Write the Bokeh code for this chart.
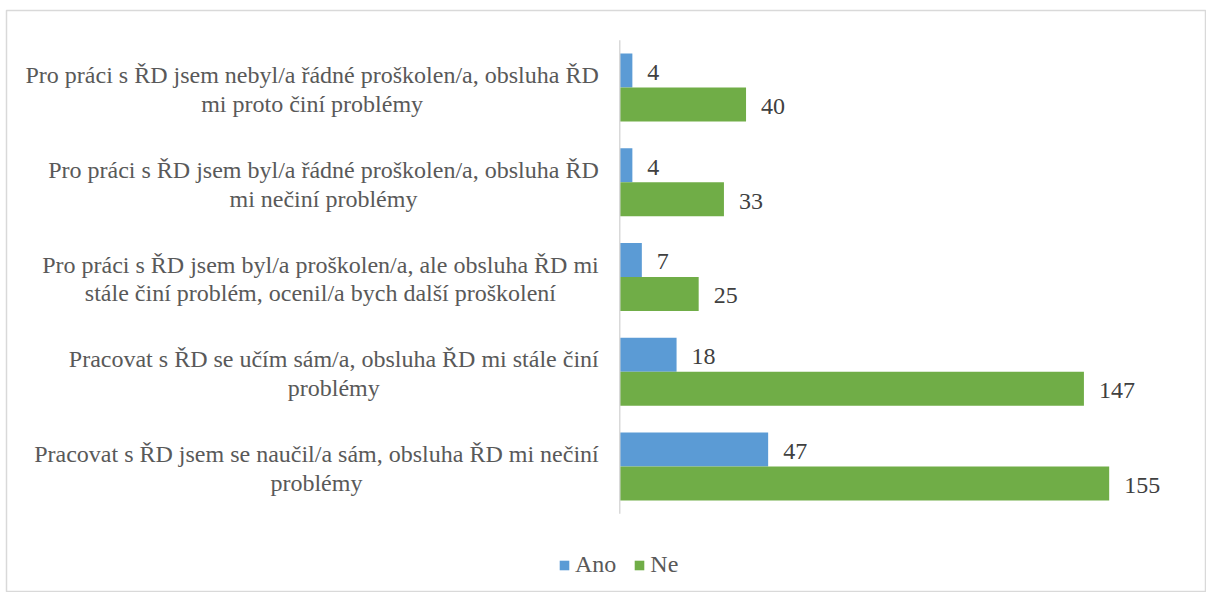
from bokeh.plotting import figure
from bokeh.models import ColumnDataSource, Range1d, Legend, LegendItem
from bokeh.core.properties import value
from bokeh.embed import file_html
from bokeh.resources import INLINE

categories = [
    "Pro práci s ŘD jsem nebyl/a řádné proškolen/a, obsluha ŘD\nmi proto činí problémy",
    "Pro práci s ŘD jsem byl/a řádné proškolen/a, obsluha ŘD\nmi nečiní problémy",
    "Pro práci s ŘD jsem byl/a proškolen/a, ale obsluha ŘD mi\nstále činí problém, ocenil/a bych další proškolení",
    "Pracovat s ŘD se učím sám/a, obsluha ŘD mi stále činí\nproblémy",
    "Pracovat s ŘD jsem se naučil/a sám, obsluha ŘD mi nečiní\nproblémy",
]
ano = [4, 4, 7, 18, 47]
ne = [40, 33, 25, 147, 155]
series_names = ["Ano", "Ne"]
colors = ["#5B9BD5", "#70AD47"]

FONT = "Liberation Serif"
W, H = 1206, 592
pitch = 94.75
bar_px = 34.0
bh = bar_px / pitch
off = bh / 2

pos = list(range(len(categories)))

p = figure(width=W, height=H, output_backend="svg", toolbar_location=None,
           x_range=Range1d(-194.2, 185.5), y_range=Range1d(5.330, -0.8127),
           min_border=0, min_border_left=6, min_border_right=1,
           min_border_top=10, min_border_bottom=0)
p.xaxis.visible = False
p.yaxis.visible = False
p.grid.visible = False
p.outline_line_color = "#d9d9d9"
p.outline_line_width = 1.5
p.background_fill_color = "white"
p.border_fill_color = "white"

src = ColumnDataSource(dict(
    y_ano=[v - off for v in pos], y_ne=[v + off for v in pos],
    ano=ano, ne=ne, cat=categories, pos=pos,
    ano_t=[str(v) for v in ano], ne_t=[str(v) for v in ne],
))

r_ano = p.hbar(y="y_ano", right="ano", left=0, height=bh, source=src,
               fill_color=colors[0], line_color=None)
r_ne = p.hbar(y="y_ne", right="ne", left=0, height=bh, source=src,
              fill_color=colors[1], line_color=None)

# vertical category axis line
p.segment(x0=[0], x1=[0], y0=[-0.5], y1=[len(categories) - 0.5],
          line_color="#d9d9d9", line_width=1.5)

# value labels
for ycol, tcol, xcol in [("y_ano", "ano_t", "ano"), ("y_ne", "ne_t", "ne")]:
    p.text(x=xcol, y=ycol, text=tcol, source=src, x_offset=15, y_offset=2,
           text_align="left", text_baseline="middle",
           text_font=value(FONT), text_font_size="24px", text_color="#404040")

# category labels
p.text(x=0, y="pos", text="cat", source=src, x_offset=-21, y_offset=2,
       anchor=value("center_right"), text_align="center", text_baseline="middle",
       text_line_height=1.1,
       text_font=value(FONT), text_font_size="24px", text_color="#595959")

legend = Legend(items=[LegendItem(label=series_names[0], renderers=[r_ano]),
                       LegendItem(label=series_names[1], renderers=[r_ne])],
                orientation="horizontal", location=(552, 14),
                glyph_width=12, glyph_height=12, label_standoff=5, spacing=17,
                padding=0, margin=0, border_line_color=None,
                background_fill_alpha=0,
                label_text_font=FONT, label_text_font_size="24px",
                label_text_color="#595959")
p.add_layout(legend)

open("out.html", "w").write(file_html(p, INLINE))
